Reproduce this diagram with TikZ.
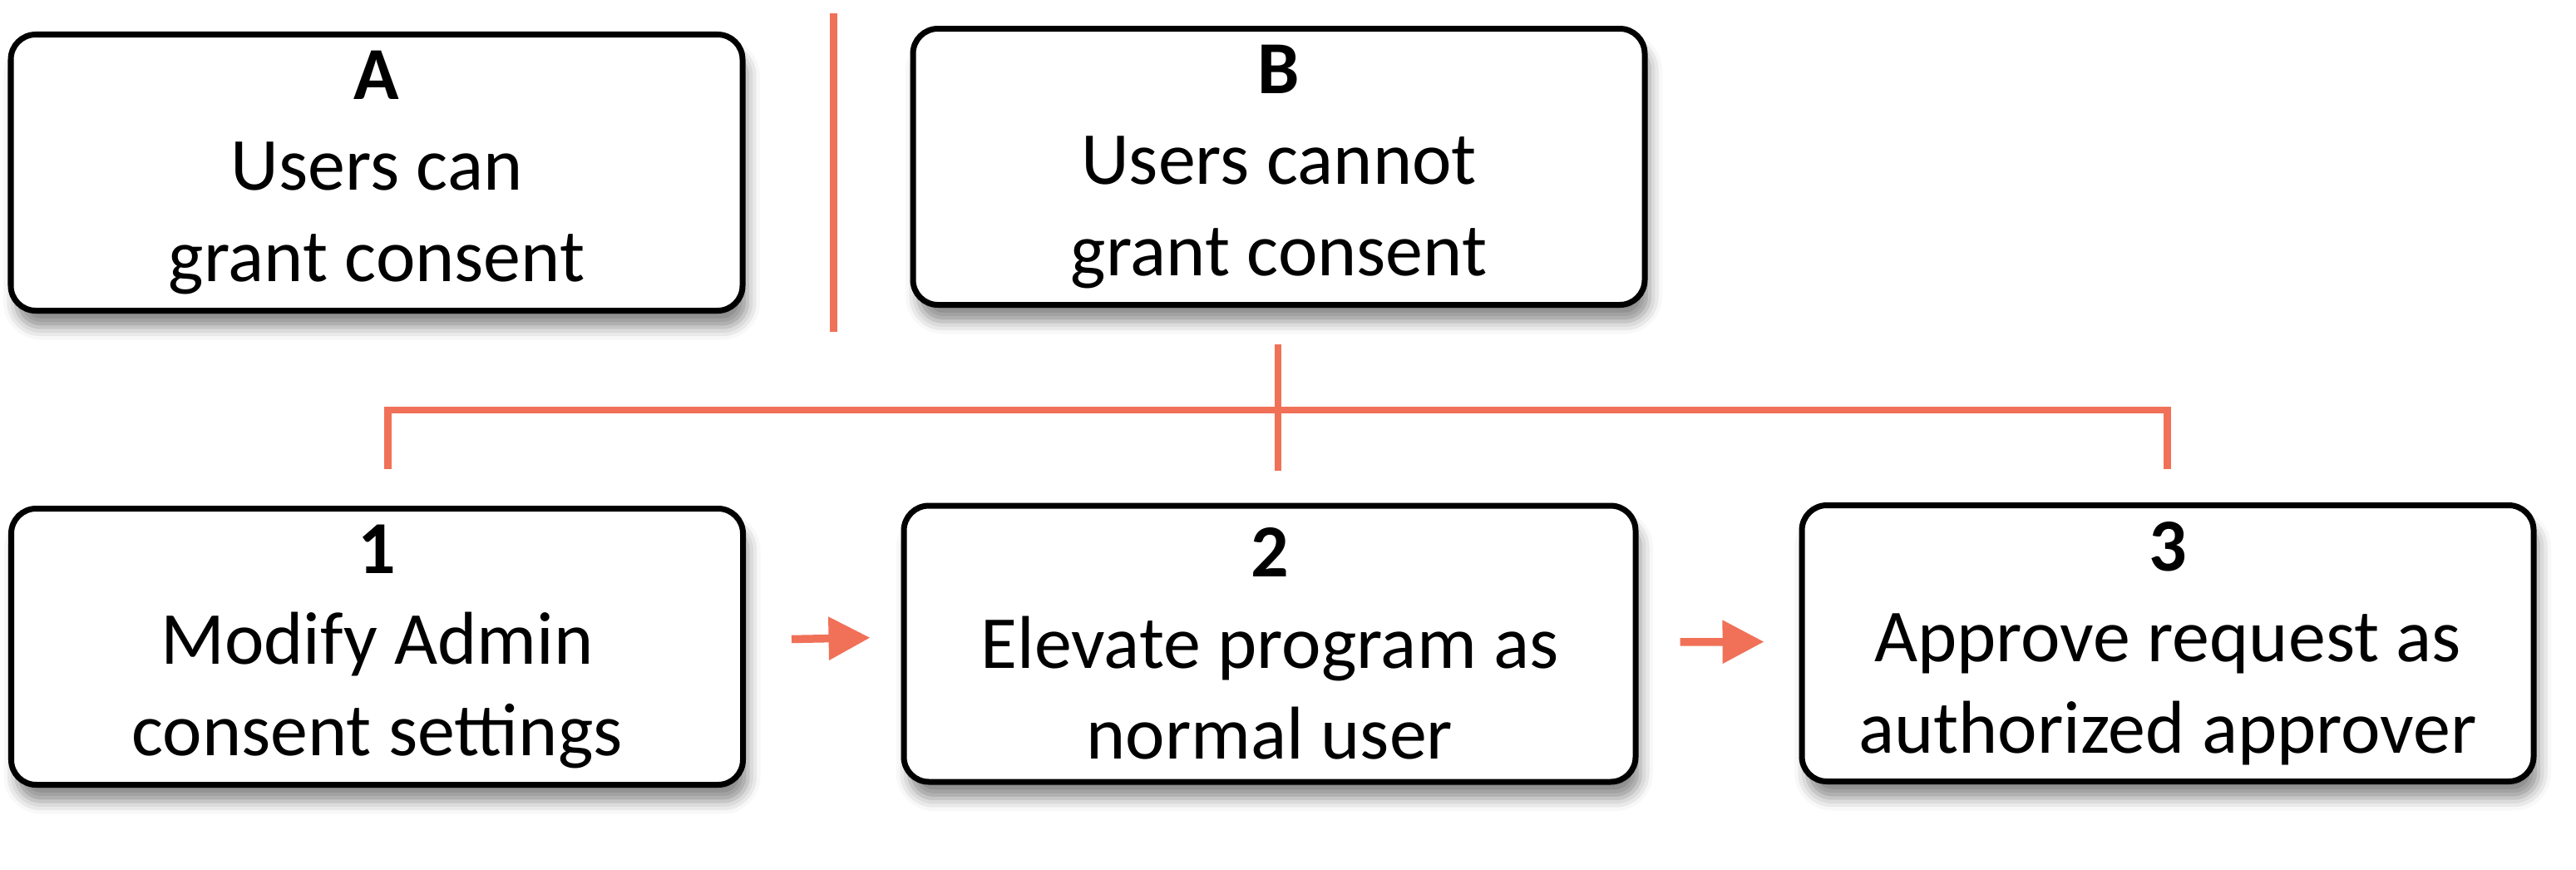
\documentclass[tikz,border=0pt]{standalone}
\usepackage{fontspec}
\setmainfont{Carlito}
\usetikzlibrary{arrows.meta,shadows.blur}
\definecolor{salmon}{RGB}{240,113,88}

\begin{document}
\begin{tikzpicture}[box/.style={draw, line width=0.07cm, rounded corners=0.3cm, fill=white, minimum width=8.8cm, minimum height=3.32cm, align=center, font=\fontsize{25.6}{31.2}\selectfont, blur shadow={shadow xshift=0.06cm, shadow yshift=-0.2cm, shadow blur radius=0.15cm, shadow opacity=45}}, link/.style={salmon, line width=0.085cm}, flow/.style={salmon, line width=0.095cm, -{Triangle[length=0.5cm,width=0.5cm]}}]
		\useasboundingbox (0,0) rectangle (30.98,-10.45);

		\node (A) at (4.53,-2.075) [box] {\textbf{A}\\Users can\\grant consent};
		\node (B) at (15.38,-2.005) [box] {\textbf{B}\\Users cannot\\grant consent};
		\node (S1) at (4.535,-7.775) [box] {\textbf{1}\\Modify Admin\\consent settings};
		\node (S2) at (15.27,-7.74) [box] {\textbf{2}\\Elevate program as\\normal user};
		\node (S3) at (26.07,-7.735) [box] {\textbf{3}\\Approve request as\\authorized approver};

		\coordinate (D1) at (10.025,-0.16);
		\coordinate (D2) at (10.025,-3.99);
		\draw[link] (D1) to (D2);

		\coordinate (T) at (15.37,-4.14);
		\coordinate (M) at (15.37,-5.66);
		\coordinate (L) at (4.665,-4.93);
		\coordinate (L1) at (4.665,-5.64);
		\coordinate (R) at (26.065,-4.93);
		\coordinate (R1) at (26.065,-5.64);
		\draw[link] (T) to (M);
		\draw[link] (L1) -- (L) -- (R) -- (R1);

		\draw[flow, shorten <=0.55cm, shorten >=0.37cm] ([yshift=0.08cm]S1.east) to ([yshift=0.08cm]S2.west);
		\draw[flow, shorten <=0.5cm, shorten >=0.42cm] ([yshift=0.02cm]S2.east) to ([yshift=0.02cm]S3.west);
	\end{tikzpicture}
\end{document}
